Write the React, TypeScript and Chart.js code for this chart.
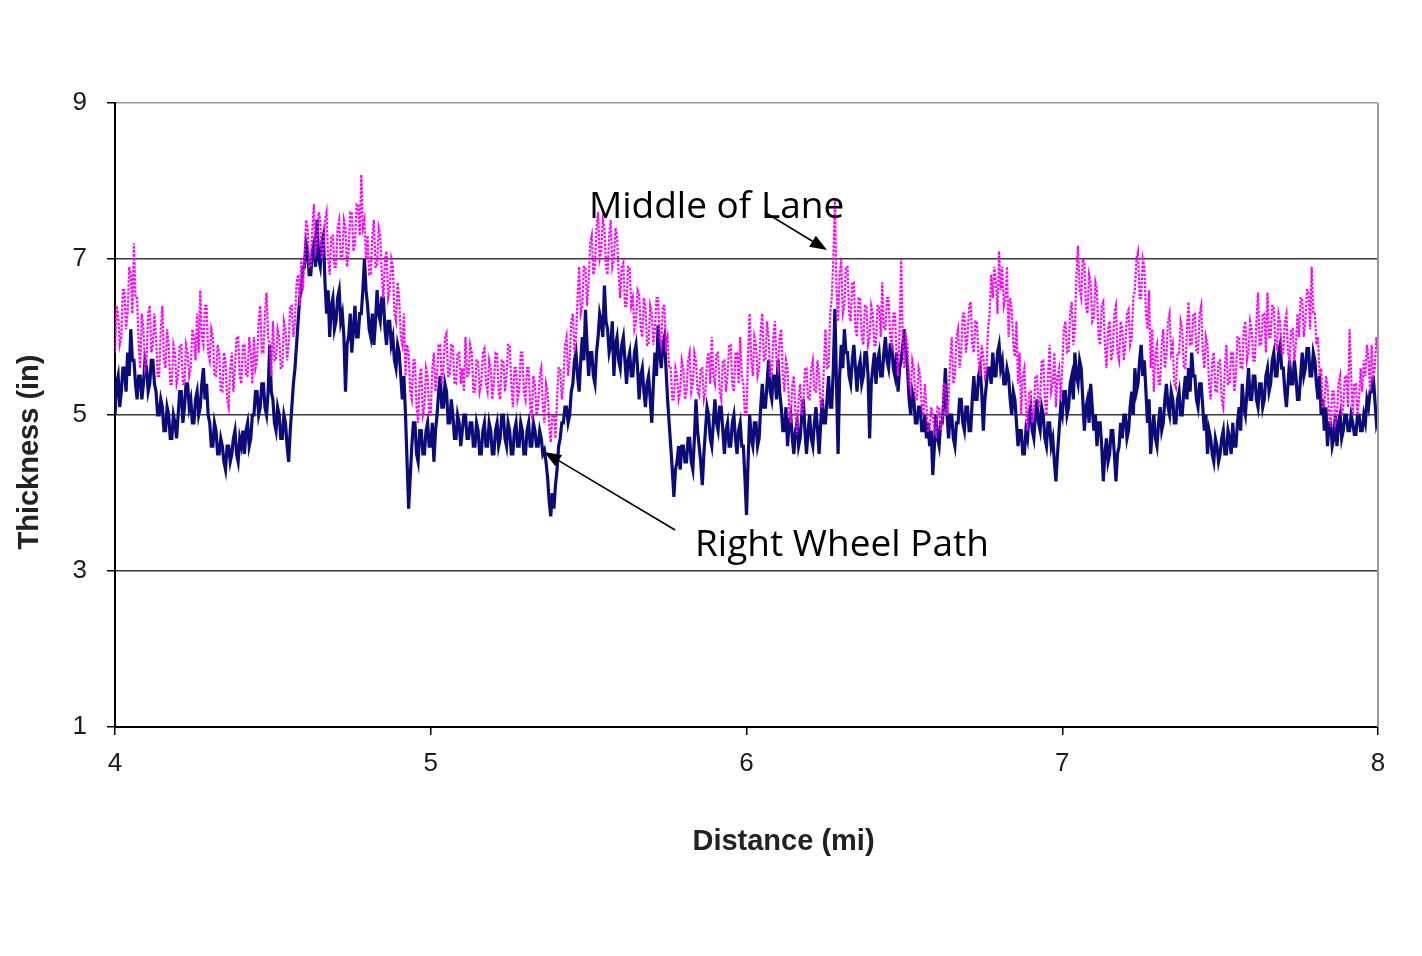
import React, { useEffect, useRef } from "react";
import { Chart, registerables } from "chart.js";

Chart.register(...registerables);

// Sampling grid of the profile (miles)
const DIST_START = 4;
const DIST_STEP = 0.005;

// Right Wheel Path thickness (in), one value per 0.005 mi (one row = 0.1 mi)
const rwpMile4 = [
  5.0, 5.4, 5.5, 5.1, 5.3, 5.6, 5.6, 5.3, 5.8, 5.5, 6.1, 5.7, 5.7, 5.4, 5.2, 5.5, 5.5, 5.2, 5.4, 5.7,
  5.6, 5.3, 5.4, 5.7, 5.7, 5.4, 5.3, 5.0, 5.0, 5.2, 5.1, 4.8, 4.8, 5.1, 5.0, 4.7, 4.7, 5.0, 4.9, 4.7,
  5.0, 5.3, 5.3, 4.9, 5.1, 5.4, 5.4, 5.1, 5.2, 4.9, 4.9, 5.2, 5.3, 5.0, 5.1, 5.4, 5.6, 5.2, 5.4, 5.0,
  4.9, 4.6, 4.6, 4.9, 4.8, 4.5, 4.5, 4.7, 4.6, 4.4, 4.3, 4.6, 4.6, 4.4, 4.5, 4.7, 4.8, 4.5, 4.4, 4.7,
  4.6, 4.8, 4.5, 4.8, 4.9, 4.6, 4.7, 5.0, 5.0, 5.3, 5.3, 5.0, 5.1, 5.4, 5.4, 5.1, 5.0, 5.3, 5.9, 5.3,
  5.2, 4.9, 4.8, 5.1, 5.0, 4.7, 4.7, 5.0, 4.9, 4.6, 4.4, 4.8, 5.1, 5.4, 5.6, 5.9, 6.2, 6.5, 6.6, 6.9,
  6.9, 7.2, 7.1, 6.8, 6.8, 7.1, 7.2, 6.9, 7.5, 7.0, 6.9, 7.2, 7.3, 6.7, 6.3, 6.6, 6.0, 6.4, 6.5, 6.1,
  6.2, 6.5, 6.6, 6.2, 6.3, 6.0, 5.3, 5.9, 6.0, 6.3, 5.8, 6.1, 6.4, 6.0, 6.0, 6.3, 6.3, 6.6, 7.0, 6.6,
  6.4, 6.1, 6.0, 6.3, 5.9, 6.2, 6.6, 6.3, 6.2, 6.5, 6.5, 6.1, 5.9, 6.2, 6.2, 5.9, 6.0, 5.7, 5.6, 5.9,
  5.8, 5.5, 5.2, 5.5, 5.0, 4.4, 3.8, 4.2, 4.6, 4.9, 4.9, 4.5, 4.4, 4.8, 4.8, 4.5, 4.5, 4.8, 4.9, 4.6,
];
const rwpMile5 = [
  4.6, 4.9, 4.4, 4.8, 5.0, 5.3, 5.5, 5.1, 5.1, 5.4, 5.3, 4.9, 4.9, 5.2, 5.0, 4.7, 4.7, 5.0, 4.9, 4.6,
  4.8, 5.0, 5.0, 4.7, 4.7, 4.9, 4.9, 4.6, 4.6, 4.9, 4.8, 4.5, 4.5, 4.8, 4.9, 4.6, 4.6, 4.9, 4.8, 4.5,
  4.5, 4.8, 4.9, 4.6, 4.7, 5.0, 5.0, 4.7, 4.6, 4.9, 4.8, 4.5, 4.5, 4.8, 4.9, 4.6, 4.6, 4.9, 4.8, 4.5,
  4.5, 4.8, 4.9, 4.6, 4.6, 4.9, 4.8, 4.6, 4.6, 4.8, 4.7, 4.5, 4.55, 4.4, 4.2, 3.9, 3.7, 4.0, 3.8, 4.1,
  4.3, 4.6, 4.7, 4.9, 4.9, 5.1, 5.1, 4.9, 5.0, 5.3, 5.4, 5.7, 5.8, 5.5, 5.3, 5.7, 6.0, 5.7, 6.35, 5.9,
  5.5, 5.8, 5.8, 5.5, 5.4, 5.8, 6.0, 6.3, 6.2, 6.0, 6.66, 6.2, 6.1, 5.8, 5.9, 6.2, 5.5, 5.9, 6.0, 5.7,
  5.6, 5.9, 6.0, 5.7, 5.4, 5.7, 5.8, 5.5, 5.5, 5.8, 5.9, 5.6, 5.2, 5.5, 5.6, 5.3, 5.1, 5.4, 5.5, 5.2,
  4.9, 5.4, 5.8, 5.5, 6.15, 5.8, 5.6, 5.9, 6.0, 5.6, 5.2, 4.9, 4.6, 4.3, 3.95, 4.3, 4.4, 4.6, 4.3, 4.6,
  4.6, 4.4, 4.4, 4.7, 4.7, 4.4, 4.3, 4.7, 5.2, 4.8, 4.6, 4.4, 4.1, 4.5, 4.8, 5.1, 5.0, 4.7, 4.6, 4.9,
  5.2, 4.9, 4.8, 5.1, 5.1, 4.8, 4.5, 4.8, 4.9, 4.6, 4.6, 4.9, 5.0, 4.7, 4.5, 4.8, 4.9, 4.6, 4.6, 4.2,
];
const rwpMile6 = [
  3.72, 4.4, 5.0, 4.7, 4.6, 4.9, 4.9, 4.6, 4.7, 5.1, 5.4, 5.1, 5.1, 5.4, 5.7, 5.3, 5.2, 5.5, 5.5, 5.2,
  5.7, 5.3, 5.1, 4.8, 4.8, 5.1, 4.6, 4.9, 5.0, 4.7, 4.5, 4.8, 4.9, 4.6, 4.7, 5.0, 5.2, 4.8, 4.5, 4.8,
  5.0, 4.7, 4.6, 4.9, 5.1, 4.8, 4.5, 4.9, 5.2, 4.9, 4.9, 5.2, 5.5, 5.1, 5.1, 5.6, 6.36, 5.4, 4.5, 5.5,
  5.9, 5.6, 6.1, 5.8, 5.8, 5.5, 5.4, 5.7, 5.9, 5.6, 5.3, 5.6, 5.7, 5.4, 5.5, 5.8, 5.8, 5.5, 4.7, 5.4,
  5.6, 5.8, 5.4, 5.7, 5.8, 5.5, 5.5, 5.8, 6.0, 5.7, 5.6, 5.9, 5.9, 5.6, 5.5, 5.8, 5.3, 5.6, 5.7, 5.9,
  6.1, 5.8, 5.6, 5.2, 5.0, 5.3, 5.2, 4.9, 4.9, 5.1, 5.1, 4.8, 4.8, 5.0, 4.7, 4.9, 4.6, 4.8, 4.23, 4.6,
  5.0, 4.7, 4.6, 4.9, 4.9, 5.2, 5.6, 5.0, 4.7, 5.0, 5.0, 4.7, 4.6, 4.9, 4.9, 5.2, 5.2, 4.9, 4.8, 5.1,
  5.1, 4.8, 4.8, 5.2, 5.5, 5.2, 5.2, 5.5, 5.6, 5.3, 4.8, 5.2, 5.4, 5.6, 5.6, 5.4, 5.8, 5.5, 5.5, 5.8,
  5.9, 5.6, 5.7, 5.4, 5.4, 5.6, 5.5, 5.2, 5.0, 5.3, 5.2, 4.9, 4.6, 4.8, 4.8, 4.5, 4.5, 4.8, 4.7, 5.0,
  5.1, 4.8, 4.7, 5.0, 5.2, 4.9, 4.8, 5.1, 5.0, 4.7, 4.6, 4.9, 4.9, 4.6, 4.7, 4.4, 4.15, 4.5, 4.8, 5.1,
];
const rwpMile7 = [
  5.0, 5.3, 5.3, 5.0, 5.1, 5.4, 5.5, 5.2, 5.8, 5.5, 5.4, 5.7, 5.6, 5.2, 4.8, 5.1, 5.2, 4.9, 5.4, 5.1,
  4.8, 5.0, 4.6, 4.9, 4.9, 4.6, 4.15, 4.5, 4.7, 4.4, 4.5, 4.8, 4.8, 4.5, 4.15, 4.5, 4.6, 4.9, 4.7, 5.0,
  5.0, 4.7, 4.8, 5.1, 5.3, 5.0, 5.6, 5.3, 5.4, 5.7, 5.9, 5.5, 5.7, 5.3, 4.9, 5.2, 4.5, 4.8, 5.0, 4.7,
  4.6, 4.9, 5.1, 4.8, 4.9, 5.2, 5.4, 5.1, 5.0, 5.3, 5.2, 4.9, 4.9, 5.2, 5.3, 5.0, 5.0, 5.3, 5.5, 5.2,
  5.6, 5.3, 5.8, 5.5, 5.5, 5.2, 5.1, 5.4, 5.4, 5.1, 4.8, 5.0, 4.5, 4.8, 4.7, 4.5, 4.4, 4.7, 4.6, 4.4,
  4.5, 4.7, 4.8, 4.5, 4.5, 4.8, 4.7, 4.5, 4.9, 4.6, 4.6, 4.9, 5.1, 4.8, 5.4, 5.1, 5.0, 5.3, 5.6, 5.2,
  5.2, 5.5, 5.5, 5.2, 5.1, 5.4, 5.4, 5.1, 5.2, 5.5, 5.6, 5.3, 5.4, 5.7, 5.8, 5.5, 5.5, 5.8, 5.9, 5.6,
  5.6, 5.3, 5.1, 5.4, 5.7, 5.4, 5.4, 5.7, 5.5, 5.2, 5.2, 5.5, 5.8, 5.5, 5.6, 5.85, 5.85, 5.5, 5.5, 5.8,
  5.7, 5.4, 5.2, 5.5, 5.0, 5.2, 4.8, 5.1, 4.6, 4.9, 4.9, 4.6, 4.7, 5.0, 4.6, 4.9, 5.0, 4.7, 4.8, 5.0,
  5.0, 4.8, 4.8, 5.0, 4.9, 4.75, 4.75, 5.0, 5.0, 4.8, 4.8, 5.0, 4.9, 5.2, 5.1, 5.3, 5.3, 5.5, 5.2, 4.9,
  5.0,
];

// Middle of Lane thickness (in), one value per 0.005 mi (one row = 0.1 mi)
const molMile4 = [
  5.8, 6.4, 6.3, 5.9, 6.0, 6.6, 6.6, 6.1, 6.3, 6.9, 6.8, 6.3, 7.2, 6.5, 6.5, 5.9, 5.6, 6.3, 6.1, 5.6,
  5.7, 6.3, 6.4, 5.8, 5.9, 6.3, 6.0, 5.5, 5.5, 6.1, 6.4, 5.7, 5.6, 6.1, 5.9, 5.4, 5.4, 5.9, 5.8, 5.4,
  5.5, 5.9, 5.9, 5.4, 5.4, 5.9, 5.8, 5.5, 5.6, 6.1, 6.0, 5.7, 6.3, 5.8, 6.6, 6.0, 5.9, 6.4, 6.4, 5.8,
  5.7, 6.1, 6.0, 5.5, 5.5, 5.9, 5.8, 5.3, 5.3, 5.8, 5.7, 5.2, 5.1, 5.6, 5.8, 5.3, 5.6, 6.0, 6.0, 5.5,
  5.4, 5.9, 5.9, 5.5, 5.5, 6.0, 5.8, 5.4, 6.0, 5.6, 5.7, 6.2, 6.4, 5.8, 5.8, 6.3, 6.57, 6.0, 5.9, 5.5,
  6.2, 5.7, 5.7, 6.1, 6.0, 5.6, 5.6, 6.2, 6.1, 5.7, 5.9, 6.4, 6.4, 6.0, 6.2, 6.7, 6.8, 6.4, 7.0, 6.6,
  7.0, 7.5, 7.4, 6.9, 6.9, 7.4, 7.7, 7.1, 7.2, 7.6, 7.5, 7.0, 7.1, 7.5, 7.6, 7.0, 6.8, 7.3, 7.3, 6.9,
  6.9, 7.4, 7.5, 7.0, 7.0, 7.5, 7.4, 6.9, 7.1, 7.6, 7.6, 7.1, 7.2, 7.7, 7.7, 7.3, 8.08, 7.4, 7.5, 7.0,
  7.3, 6.8, 6.8, 7.3, 7.5, 6.9, 6.9, 7.4, 7.3, 6.8, 6.5, 7.0, 7.1, 6.5, 6.6, 7.0, 6.9, 6.3, 6.2, 6.7,
  6.5, 6.0, 5.9, 6.3, 5.5, 5.9, 5.8, 5.3, 5.2, 5.7, 5.7, 5.1, 4.9, 5.5, 5.6, 5.0, 5.1, 5.6, 5.5, 5.0,
];
const molMile5 = [
  5.0, 5.6, 5.8, 5.3, 5.5, 5.9, 5.9, 5.4, 5.6, 6.0, 6.05, 5.5, 5.5, 5.9, 5.9, 5.4, 5.4, 5.8, 5.8, 5.4,
  5.6, 5.3, 6.0, 5.5, 5.5, 5.9, 5.8, 5.3, 5.3, 5.7, 5.7, 5.3, 5.4, 5.8, 5.85, 5.4, 5.3, 5.7, 5.6, 5.2,
  5.4, 5.8, 5.8, 5.3, 5.2, 5.7, 5.7, 5.3, 5.5, 5.9, 5.9, 5.4, 5.1, 5.6, 5.6, 5.2, 5.3, 5.8, 5.8, 5.3,
  5.2, 5.6, 5.6, 5.1, 5.0, 5.5, 5.4, 5.0, 5.1, 5.5, 5.6, 5.1, 4.9, 5.4, 5.3, 4.9, 4.65, 5.0, 5.0, 4.7,
  5.2, 5.6, 5.6, 5.2, 5.4, 5.9, 6.0, 5.5, 5.7, 6.2, 6.3, 5.8, 6.0, 6.5, 6.9, 6.3, 6.4, 6.9, 6.9, 6.4,
  6.7, 7.2, 7.3, 6.8, 6.9, 7.4, 7.6, 7.0, 7.1, 7.5, 7.4, 6.9, 6.8, 7.3, 7.5, 6.9, 7.0, 7.4, 7.3, 6.8,
  6.5, 6.9, 6.95, 6.4, 6.4, 6.9, 6.9, 6.4, 6.5, 6.1, 6.2, 6.6, 6.55, 6.1, 6.0, 6.5, 6.4, 5.9, 5.9, 6.4,
  6.3, 5.9, 6.1, 6.5, 6.5, 6.0, 5.9, 6.4, 6.4, 5.9, 6.0, 5.6, 5.6, 5.2, 5.2, 5.6, 5.5, 5.2, 5.3, 5.7,
  5.6, 5.2, 5.3, 5.7, 5.8, 5.3, 5.4, 5.8, 5.7, 5.3, 5.25, 5.6, 5.6, 5.2, 5.3, 5.7, 5.8, 5.4, 6.0, 5.5,
  5.4, 5.8, 5.8, 5.3, 5.2, 5.7, 5.7, 5.3, 5.5, 5.9, 5.9, 5.4, 5.3, 5.8, 5.8, 5.4, 6.0, 5.5, 5.4, 5.0,
];
const molMile6 = [
  5.0, 5.8, 6.3, 5.7, 5.5, 6.0, 5.9, 5.5, 5.6, 6.1, 6.3, 5.7, 5.7, 6.2, 6.0, 5.5, 5.5, 6.0, 6.2, 5.7,
  5.6, 6.0, 6.1, 5.5, 5.3, 5.7, 5.6, 5.1, 4.9, 5.4, 5.5, 5.0, 4.75, 5.2, 5.4, 5.0, 5.1, 5.6, 5.6, 5.2,
  5.2, 5.6, 5.7, 5.3, 5.3, 5.7, 5.5, 5.1, 5.1, 5.6, 6.1, 5.6, 5.6, 6.3, 6.5, 7.0, 7.77, 6.6, 6.2, 6.8,
  7.0, 6.3, 6.4, 6.9, 6.9, 6.3, 6.2, 6.7, 6.7, 6.1, 6.0, 6.5, 6.5, 6.0, 5.9, 6.4, 6.4, 5.9, 6.0, 6.4,
  6.3, 5.9, 5.9, 6.4, 6.4, 6.0, 6.7, 6.1, 6.1, 6.5, 6.5, 6.0, 5.9, 6.3, 6.3, 5.8, 5.5, 6.1, 7.0, 5.9,
  5.6, 6.0, 5.9, 5.4, 5.3, 5.7, 5.6, 5.2, 5.2, 5.6, 5.5, 5.1, 5.0, 5.4, 5.1, 4.8, 4.8, 5.1, 5.0, 4.8,
  4.75, 5.1, 5.1, 4.8, 4.9, 5.4, 5.4, 5.0, 5.2, 5.7, 6.0, 5.4, 5.5, 6.0, 6.1, 5.6, 5.8, 6.3, 6.3, 5.8,
  6.0, 6.4, 6.45, 5.9, 5.8, 6.2, 6.2, 5.7, 5.5, 5.9, 5.75, 5.5, 5.6, 6.1, 6.3, 6.8, 6.5, 6.9, 6.7, 6.3,
  7.1, 6.6, 6.9, 6.4, 6.5, 6.9, 6.0, 6.5, 6.35, 5.9, 5.75, 6.2, 5.4, 5.8, 5.0, 5.5, 5.6, 5.1, 4.8, 5.3,
  5.3, 4.9, 5.0, 5.5, 5.5, 5.1, 5.2, 5.7, 5.7, 5.2, 5.0, 5.5, 5.9, 5.3, 5.4, 5.8, 5.1, 5.5, 5.6, 5.2,
];
const molMile7 = [
  5.6, 6.1, 6.2, 5.8, 5.8, 6.3, 6.45, 5.9, 6.1, 6.8, 7.17, 6.6, 6.5, 7.0, 6.95, 6.4, 6.3, 6.8, 6.7, 6.2,
  6.25, 6.7, 6.6, 6.0, 5.9, 6.4, 6.45, 5.9, 5.6, 6.1, 6.2, 5.7, 5.8, 6.3, 6.4, 5.8, 5.7, 6.2, 6.1, 5.7,
  5.9, 6.3, 6.35, 5.9, 6.0, 6.5, 6.6, 7.0, 7.09, 6.5, 6.5, 7.0, 6.9, 6.3, 6.1, 6.6, 5.6, 6.1, 5.3, 5.8,
  5.9, 5.4, 5.4, 5.9, 6.1, 5.6, 5.75, 6.2, 6.3, 5.8, 5.9, 5.4, 5.35, 5.8, 5.8, 6.2, 6.1, 5.6, 5.6, 6.1,
  6.45, 5.9, 5.9, 6.3, 6.3, 5.8, 5.8, 6.3, 6.4, 5.8, 5.6, 6.0, 5.9, 5.4, 5.2, 5.7, 5.8, 5.3, 5.3, 5.7,
  5.7, 5.2, 5.1, 5.6, 5.9, 5.4, 5.4, 5.8, 5.8, 5.3, 5.5, 6.0, 6.0, 5.6, 5.6, 6.1, 6.2, 5.7, 5.8, 6.2,
  6.1, 5.7, 5.7, 6.2, 6.57, 5.9, 5.9, 6.3, 6.3, 5.8, 6.57, 6.0, 6.0, 6.4, 6.4, 5.9, 5.85, 6.3, 6.2, 5.8,
  5.8, 6.2, 6.3, 5.8, 5.7, 6.1, 6.1, 5.7, 5.9, 6.3, 6.0, 6.5, 6.5, 6.0, 6.2, 6.6, 6.6, 6.1, 6.9, 6.3,
  6.3, 5.9, 6.0, 5.5, 5.6, 5.1, 5.1, 5.5, 5.4, 5.0, 4.85, 5.3, 5.3, 4.9, 5.0, 5.4, 5.5, 5.0, 5.1, 5.5,
  5.5, 5.1, 6.1, 5.5, 5.0, 5.4, 5.4, 5.0, 5.2, 5.6, 5.3, 5.7, 5.5, 5.9, 5.7, 5.3, 5.9, 5.5, 5.6, 6.0,
  5.8,
];

const X_TICKS = [4, 5, 6, 7, 8];
const Y_TICKS = [1, 3, 5, 7, 9];

// Annotations (data coordinates: miles, inches)
const LABELS = [
  { text: "Middle of Lane", x: 5.501, y: 7.53 },
  { text: "Right Wheel Path", x: 5.837, y: 3.19 },
];
const ARROWS = [
  { fromX: 6.062, fromY: 7.59, toX: 6.255, toY: 7.115 },
  { fromX: 5.774, fromY: 3.526, toX: 5.359, toY: 4.526 },
];

const rwpValues = [...rwpMile4, ...rwpMile5, ...rwpMile6, ...rwpMile7];
const molValues = [...molMile4, ...molMile5, ...molMile6, ...molMile7];
const toPoints = (vals: number[]) =>
  vals.map((v, i) => ({ x: DIST_START + i * DIST_STEP, y: v }));

const overlayPlugin = {
  id: "overlay",
  afterDatasetsDraw(chart: any) {
    const { ctx, chartArea, scales } = chart;
    const xs = scales.x;
    const ys = scales.y;
    ctx.save();
    // right frame border
    ctx.strokeStyle = "#9a9a9a";
    ctx.lineWidth = 2;
    ctx.beginPath();
    ctx.moveTo(chartArea.right, chartArea.top);
    ctx.lineTo(chartArea.right, chartArea.bottom);
    ctx.stroke();

    // annotation texts
    ctx.fillStyle = "#000";
    ctx.font = '37px "Open Sans"';
    ctx.textAlign = "left";
    ctx.textBaseline = "alphabetic";
    for (const l of LABELS) {
      ctx.fillText(l.text, xs.getPixelForValue(l.x), ys.getPixelForValue(l.y));
    }
    // arrows
    ctx.strokeStyle = "#000";
    ctx.lineWidth = 1.6;
    for (const a of ARROWS) {
      const x1 = xs.getPixelForValue(a.fromX);
      const y1 = ys.getPixelForValue(a.fromY);
      const x2 = xs.getPixelForValue(a.toX);
      const y2 = ys.getPixelForValue(a.toY);
      const ang = Math.atan2(y2 - y1, x2 - x1);
      const len = 17;
      const hw = 6.5;
      const bx = x2 - len * Math.cos(ang);
      const by = y2 - len * Math.sin(ang);
      ctx.beginPath();
      ctx.moveTo(x1, y1);
      ctx.lineTo(bx, by);
      ctx.stroke();
      ctx.beginPath();
      ctx.moveTo(x2, y2);
      ctx.lineTo(bx + hw * Math.sin(ang), by - hw * Math.cos(ang));
      ctx.lineTo(bx - hw * Math.sin(ang), by + hw * Math.cos(ang));
      ctx.closePath();
      ctx.fill();
    }

    // axis titles
    ctx.fillStyle = "#222";
    ctx.font = 'bold 29px "Liberation Sans"';
    ctx.textAlign = "center";
    ctx.textBaseline = "middle";
    const cx = (chartArea.left + chartArea.right) / 2 + 37;
    ctx.fillText("Distance (mi)", cx, chartArea.bottom + 115);
    const cy = (chartArea.top + chartArea.bottom) / 2 + 37;
    ctx.translate(30, cy);
    ctx.rotate(-Math.PI / 2);
    ctx.fillText("Thickness (in)", 0, 0);
    ctx.restore();
  },
};

export default function App() {
  const ref = useRef<HTMLCanvasElement>(null);
  useEffect(() => {
    document.body.style.margin = "0";
    const canvas = ref.current;
    if (!canvas) return;
    const chart = new Chart(canvas, {
      type: "line",
      data: {
        datasets: [
          {
            label: "Middle of Lane",
            data: toPoints(molValues),
            borderColor: "#ff00ff",
            borderWidth: 2.2,
            borderDash: [2.5, 1.5],
            pointRadius: 0,
            tension: 0,
            fill: false,
          },
          {
            label: "Right Wheel Path",
            data: toPoints(rwpValues),
            borderColor: "#0c0c78",
            borderWidth: 3.2,
            pointRadius: 0,
            tension: 0,
            fill: false,
          },
        ],
      },
      options: {
        responsive: false,
        animation: false,
        devicePixelRatio: 1,
        layout: { padding: { left: 0, right: 44, top: 103, bottom: 96 } },
        plugins: {
          legend: { display: false },
          tooltip: { enabled: false },
        },
        scales: {
          x: {
            type: "linear",
            min: 4,
            max: 8,
            afterBuildTicks: (s: any) => {
              s.ticks = X_TICKS.map((v) => ({ value: v }));
            },
            afterFit: (s: any) => {
              s.height = 133;
            },
            grid: {
              drawOnChartArea: false,
              drawTicks: true,
              tickLength: 8,
              color: "#000",
              lineWidth: 1.5,
            },
            border: { display: true, color: "#000", width: 2 },
            ticks: {
              padding: 13,
              color: "#1a1a1a",
              font: { family: '"Liberation Sans", Arial', size: 26 },
              maxRotation: 0,
            },
          },
          y: {
            type: "linear",
            min: 1,
            max: 9,
            afterBuildTicks: (s: any) => {
              s.ticks = Y_TICKS.map((v) => ({ value: v }));
            },
            afterFit: (s: any) => {
              s.width = 115;
            },
            grid: {
              drawTicks: true,
              tickLength: 8,
              tickColor: "#000",
              color: (c: any) =>
                c.tick && c.tick.value === 9 ? "#9a9a9a" : "#3a3a3a",
              lineWidth: 1.5,
            },
            border: { display: true, color: "#000", width: 2 },
            ticks: {
              padding: 20,
              color: "#1a1a1a",
              font: { family: '"Liberation Sans", Arial', size: 26 },
            },
          },
        },
      },
      plugins: [overlayPlugin],
    });
    return () => chart.destroy();
  }, []);
  return (
    <div style={{ width: 1422, height: 956, background: "#fff" }}>
      <canvas ref={ref} width={1422} height={956} style={{ display: "block" }} />
    </div>
  );
}
